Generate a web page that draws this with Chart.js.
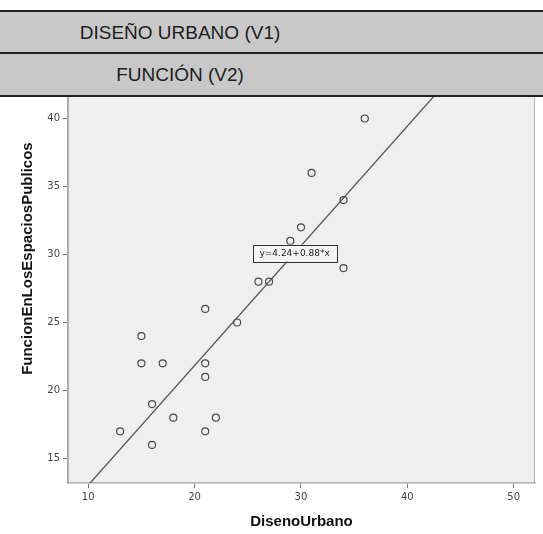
<!DOCTYPE html>
<html>
<head>
<meta charset="utf-8">
<script src="https://cdn.jsdelivr.net/npm/chart.js@4.4.0/dist/chart.umd.min.js"></script>
<style>
  html, body { margin: 0; padding: 0; background: #ffffff; }
  #wrap { position: relative; width: 543px; height: 534px; overflow: hidden; }
  .band {
    position: absolute; left: 0; width: 543px; z-index: 2;
    background: #c8c8c8; box-sizing: border-box;
    border-top: 2px solid #231f20;
    font-family: "Liberation Sans", Arial, sans-serif; font-size: 19px; color: #1c1c1c;
  }
  .band span { display: block; width: 360px; text-align: center; }
  #b1 { top: 10px; height: 43px; line-height: 41px; }
  #b2 { top: 52px; height: 45px; line-height: 41px; border-bottom: 2px solid #231f20; }
  #cv { position: absolute; left: 0; top: 29px; z-index: 1; }
</style>
</head>
<body>
<div id="wrap">
  <div class="band" id="b1"><span>DISEÑO URBANO (V1)</span></div>
  <div class="band" id="b2"><span>FUNCIÓN (V2)</span></div>
  <canvas id="cv" width="543" height="505"></canvas>
</div>
<script>
// Diseño urbano (V1) vs. función en los espacios públicos (V2)
const disenoUrbano = [36, 31, 34, 30, 29, 34, 26, 27, 21, 24, 15, 15, 17, 21, 21, 16, 18, 22, 13, 21, 16];
const funcionEspacios = [40, 36, 34, 32, 31, 29, 28, 28, 26, 25, 24, 22, 22, 22, 21, 19, 18, 18, 17, 17, 16];

const xTickValues = [10, 20, 30, 40, 50];
const yTickValues = [15, 20, 25, 30, 35, 40];

// Linear fit: y = intercept + slope * x
const fitIntercept = 4.24;
const fitSlope = 0.88;
const fitLabel = 'y=4.24+0.88*x';

const X_MIN = 8.1, X_MAX = 52;
const Y_MIN = 13.2, Y_MAX = 46.2;

const points = disenoUrbano.map((x, i) => ({ x: x, y: funcionEspacios[i] }));
const fitLine = [X_MIN, X_MAX].map(x => ({ x: x, y: fitIntercept + fitSlope * x }));

const plotFrame = {
  id: 'plotFrame',
  beforeDatasetsDraw(chart) {
    const { ctx, chartArea: a } = chart;
    ctx.save();
    ctx.fillStyle = '#efefef';
    ctx.fillRect(a.left, a.top, a.right - a.left, a.bottom - a.top);
    ctx.strokeStyle = '#b4b4b4';
    ctx.lineWidth = 1;
    ctx.strokeRect(a.left + 0.5, a.top + 0.5, a.right - a.left - 1, a.bottom - a.top - 1);
    ctx.restore();
  }
};

const fitLabelBox = {
  id: 'fitLabelBox',
  afterDatasetsDraw(chart) {
    const { ctx, scales } = chart;
    const cx = scales.x.getPixelForValue(29.4);
    const cy = scales.y.getPixelForValue(30.1);
    const w = 84, h = 17;
    ctx.save();
    ctx.fillStyle = '#f4f4f4';
    ctx.fillRect(cx - w / 2, cy - h / 2, w, h);
    ctx.strokeStyle = '#333333';
    ctx.lineWidth = 1;
    ctx.strokeRect(Math.round(cx - w / 2) + 0.5, Math.round(cy - h / 2) + 0.5, w, h);
    ctx.fillStyle = '#222222';
    ctx.font = '9px "DejaVu Sans", sans-serif';
    ctx.textAlign = 'center';
    ctx.textBaseline = 'middle';
    ctx.fillText(fitLabel, cx, cy + 0.5);
    ctx.restore();
  }
};

new Chart(document.getElementById('cv'), {
  type: 'scatter',
  data: {
    datasets: [
      {
        type: 'line',
        data: fitLine,
        borderColor: '#555555',
        borderWidth: 1.3,
        pointRadius: 0,
        fill: false,
        order: 2
      },
      {
        data: points,
        pointStyle: 'circle',
        pointRadius: 3.5,
        borderWidth: 1.2,
        borderColor: '#4a4a4a',
        backgroundColor: 'rgba(0,0,0,0)',
        order: 1
      }
    ]
  },
  options: {
    responsive: false,
    animation: false,
    layout: { padding: { top: 0, right: 8, bottom: 0, left: 0 } },
    plugins: { legend: { display: false }, tooltip: { enabled: false } },
    scales: {
      x: {
        type: 'linear',
        min: X_MIN, max: X_MAX,
        afterBuildTicks: s => { s.ticks = xTickValues.map(v => ({ value: v })); },
        afterFit: s => { s.height = 51; s.paddingLeft = 0; s.paddingRight = 0; },
        grid: { drawOnChartArea: false, tickLength: 5, color: '#777777' },
        border: { color: '#a8a8a8', width: 1.5 },
        ticks: { font: { family: 'DejaVu Sans', size: 10 }, color: '#444444', padding: 3, maxRotation: 0 },
        title: {
          display: true, text: 'DisenoUrbano', color: '#111111',
          font: { family: 'Liberation Sans', size: 15, weight: 'bold' },
          padding: { top: 0, bottom: 3 }
        }
      },
      y: {
        type: 'linear',
        min: Y_MIN, max: Y_MAX,
        afterBuildTicks: s => { s.ticks = yTickValues.map(v => ({ value: v })); },
        afterFit: s => { s.width = 68; s.paddingTop = 0; s.paddingBottom = 0; },
        grid: { drawOnChartArea: false, tickLength: 5, color: '#777777' },
        border: { color: '#a8a8a8', width: 1.5 },
        ticks: { font: { family: 'DejaVu Sans', size: 10 }, color: '#444444', padding: 3 },
        title: {
          display: true, text: 'FuncionEnLosEspaciosPublicos', color: '#111111',
          font: { family: 'Liberation Sans', size: 15, weight: 'bold' },
          padding: { top: 19, bottom: 0 }
        }
      }
    }
  },
  plugins: [plotFrame, fitLabelBox]
});
</script>
</body>
</html>
